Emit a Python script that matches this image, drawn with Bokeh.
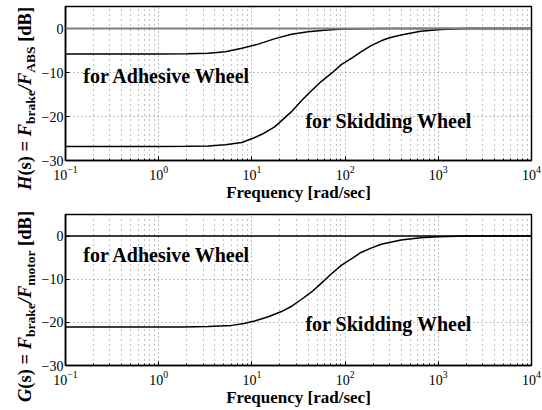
from bokeh.plotting import figure
from bokeh.models import (Label, FixedTicker, LogTickFormatter, Span, Div)
from bokeh.layouts import column, row
from bokeh.embed import file_html
from bokeh.resources import INLINE

# ---------------- data ----------------
# Top panel: H(s)
freq_h_adhesive = [0.1, 1, 2, 3.4, 5.2, 7.8, 11.7, 17.7, 26.6, 40, 60, 91, 150, 300, 10000]
db_h_adhesive = [-5.8, -5.8, -5.75, -5.65, -5.3, -4.5, -3.55, -2.3, -1.3, -0.75, -0.38, -0.12, -0.03, 0, 0]

freq_h_skidding = [0.1, 1, 2, 3.4, 5.2, 7.8, 10.4, 13.5, 17.7, 26.6, 34, 40, 55.7, 74, 91,
                   120, 148, 190, 244, 300, 398, 646, 1070, 2000, 10000]
db_h_skidding = [-26.8, -26.8, -26.78, -26.7, -26.4, -25.9, -24.9, -23.8, -22.3, -18.9, -16.4, -14.9,
                 -12.0, -9.9, -8.2, -6.6, -5.3, -3.9, -2.8, -2.1, -1.5, -0.6, -0.2, 0, 0]

# Bottom panel: G(s)
freq_g_adhesive = [0.1, 10000]
db_g_adhesive = [0, 0]

freq_g_skidding = [0.1, 1, 1.8, 3.4, 6.1, 8.2, 10.7, 15, 20.8, 27, 33.9, 44, 55.7, 70, 91,
                   120, 148, 190, 244, 398, 646, 1000, 2000, 10000]
db_g_skidding = [-21.1, -21.1, -21.05, -20.95, -20.7, -20.25, -19.7, -18.7, -17.5, -16.2, -14.7, -12.9,
                 -10.9, -8.9, -6.8, -5.1, -3.8, -2.8, -1.9, -0.9, -0.4, -0.15, 0, 0]

y_ticks = [-30, -20, -10, 0]
x_ticks = [0.1, 1, 10, 100, 1000, 10000]

label_adhesive = "for Adhesive Wheel"
label_skidding = "for Skidding Wheel"
x_title = "Frequency [rad/sec]"
y_title_top = ("H", "ABS")
y_title_bottom = ("G", "motor")

FONT = "Liberation Serif"
DIV_W = 38

minor = [m * 10 ** d for d in range(-1, 4) for m in range(2, 10)]


def make_panel(curves, height, b_top, b_bottom, txt_adh_y, txt_skd_y, zero_span):
    p = figure(width=542 - DIV_W, height=height, x_axis_type="log", x_range=(0.1, 1e4),
               y_range=(-30, 5), output_backend="svg", toolbar_location=None,
               min_border_left=63 - DIV_W, min_border_right=11, min_border_top=b_top,
               min_border_bottom=b_bottom)
    p.outline_line_color = "black"
    p.outline_line_width = 1.5
    p.border_fill_alpha = 0

    # axes
    p.xaxis.ticker = FixedTicker(ticks=x_ticks, minor_ticks=minor)
    p.xaxis.formatter = LogTickFormatter()
    p.yaxis.ticker = FixedTicker(ticks=y_ticks)
    for ax in (p.xaxis[0], p.yaxis[0]):
        ax.axis_line_color = "black"
        ax.axis_line_width = 1.5
        ax.major_tick_in = 4
        ax.major_tick_out = 0
        ax.minor_tick_in = 2
        ax.minor_tick_out = 0
        ax.major_tick_line_color = "black"
        ax.minor_tick_line_color = "black"
        ax.major_label_text_font = FONT
        ax.major_label_text_font_size = "14px"
        ax.major_label_text_color = "black"
        ax.major_label_text_line_height = 1.0
    p.yaxis.minor_tick_line_color = None
    p.yaxis.major_label_standoff = 2
    p.xaxis.major_label_standoff = 5

    p.xaxis.axis_label = x_title
    p.xaxis.axis_label_text_font = FONT
    p.xaxis.axis_label_text_font_style = "bold"
    p.xaxis.axis_label_text_font_size = "17px"
    p.xaxis.axis_label_text_color = "black"
    p.xaxis.axis_label_text_line_height = 1.0
    p.xaxis.axis_label_standoff = 0

    # grids
    for g in (p.xgrid[0], p.ygrid[0]):
        g.grid_line_color = "#808080"
        g.grid_line_dash = "1 3"
        g.grid_line_width = 1
    p.xgrid.minor_grid_line_color = "#808080"
    p.xgrid.minor_grid_line_dash = "1 4"
    p.ygrid.ticker = FixedTicker(ticks=y_ticks)

    if zero_span:
        p.add_layout(Span(location=0, dimension="width", line_color="#808080", line_width=2))

    for fx, fy in curves:
        p.line(fx, fy, line_color="black", line_width=1.5)

    # in-plot texts
    p.add_layout(Label(x=0.155, y=txt_adh_y, text=label_adhesive, text_baseline="alphabetic",
                       text_font=FONT, text_font_style="bold", text_font_size="20px",
                       text_color="black"))
    p.add_layout(Label(x=37.5, y=txt_skd_y, text=label_skidding, text_baseline="alphabetic",
                       text_font=FONT, text_font_style="bold", text_font_size="20px",
                       text_color="black"))
    return p


def ytitle_div(parts, height, start_y):
    letter, sub = parts
    subst = "font-size:13.5px; position:relative; top:4px;"
    html = (
        f'<div style="position:absolute; left:16px; top:{start_y}px; transform-origin:0 0; '
        f'transform:rotate(-90deg); white-space:nowrap; line-height:18.5px; '
        f"font-family:'{FONT}'; font-weight:bold; font-size:18.5px; color:black;\">"
        f'<i>{letter}</i>(s) = <i>F</i><span style="{subst}">brake</span>'
        f'<i>/F</i><span style="{subst}">{sub}</span> [dB]</div>'
    )
    return Div(text=html, width=DIV_W, height=height, margin=0,
               styles={"overflow": "visible", "position": "relative"},
               stylesheets=["* { overflow: visible !important; }"])


TOP_H = 204
BOT_H = 205
p1 = make_panel([(freq_h_adhesive, db_h_adhesive), (freq_h_skidding, db_h_skidding)],
                height=TOP_H, b_top=6, b_bottom=44, txt_adh_y=-10.7, txt_skd_y=-21.1,
                zero_span=True)
p2 = make_panel([(freq_g_adhesive, db_g_adhesive), (freq_g_skidding, db_g_skidding)],
                height=BOT_H, b_top=10, b_bottom=44, txt_adh_y=-4.5, txt_skd_y=-20.3,
                zero_span=False)

d1 = ytitle_div(y_title_top, TOP_H, 190)
d2 = ytitle_div(y_title_bottom, BOT_H, 402 - TOP_H)

layout = column(row(d1, p1, spacing=0), row(d2, p2, spacing=0), spacing=0)
open("out.html", "w").write(file_html(layout, INLINE))
